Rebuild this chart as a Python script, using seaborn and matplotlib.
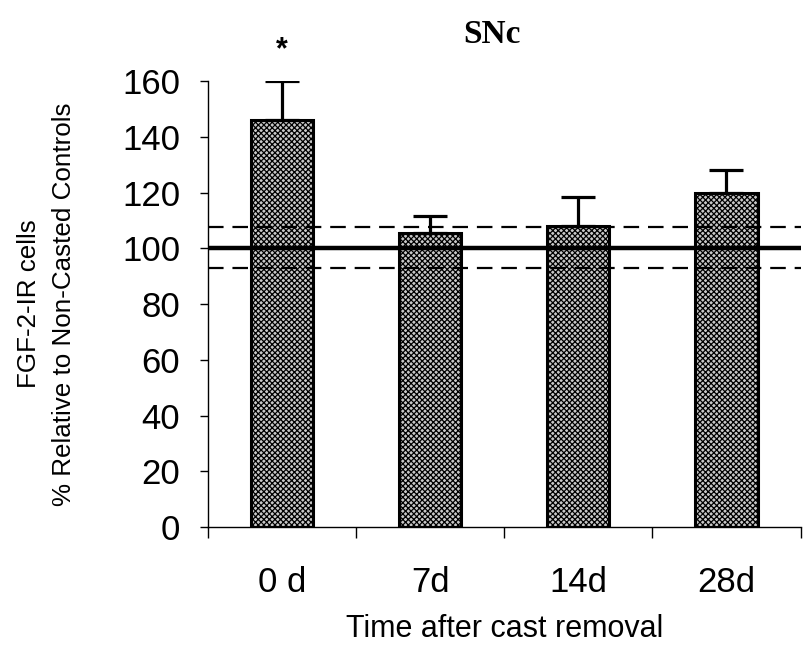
import matplotlib
matplotlib.use("Agg")
import matplotlib.pyplot as plt
import seaborn as sns
import pandas as pd
import numpy as np

# Data
categories = ["0 d", "7d", "14d", "28d"]
means = [146, 105.5, 108, 120]
sem_upper = [14, 6, 10.5, 8]
control_mean = 100
control_band = [93, 107.5]

df = pd.DataFrame({"time": categories, "pct": means})

sns.set_theme(style="ticks", rc={
    "text.color": "black", "axes.labelcolor": "black",
    "xtick.color": "black", "ytick.color": "black",
    "axes.edgecolor": "black",
})
plt.rcParams["font.family"] = ["Liberation Sans", "DejaVu Sans"]
plt.rcParams["hatch.linewidth"] = 0.9

fig = plt.figure(figsize=(8.04, 6.46), dpi=100)
ax = fig.add_axes([0.2587, 0.184, 0.737, 0.6906])

sns.barplot(data=df, x="time", y="pct", order=categories, color="#c8c8c8",
            width=0.42, errorbar=None, edgecolor="black", linewidth=2.2,
            saturation=1, ax=ax, zorder=2)
for p in ax.patches:
    p.set_hatch("xxxxxx")
    p.set_edgecolor("black")

x = np.arange(len(categories))
ax.errorbar(x, means, yerr=[np.zeros(len(means)), sem_upper], fmt="none",
            ecolor="black", elinewidth=2.3, capsize=12, capthick=2.3, zorder=3)

# control reference lines
ax.axhline(control_mean, color="black", lw=3.2, zorder=4)
for v in control_band:
    ax.axhline(v, color="black", lw=1.6, ls=(0, (7, 4)), zorder=4)

ax.text(0, 171, "*", ha="center", va="center", fontsize=22,
        fontweight="bold", clip_on=False)

ax.set_xlim(-0.5, 3.5)
ax.set_ylim(0, 160)
ax.set_yticks(np.arange(0, 161, 20))
ax.set_xticks(x)
ax.set_xticklabels(categories)
ax.set_xticks(np.arange(-0.5, 3.6, 1), minor=True)
ax.tick_params(axis="x", which="major", length=0, pad=28, labelsize=25)
ax.tick_params(axis="x", which="minor", length=8, width=1, direction="out")
ax.tick_params(axis="y", length=6, width=1, pad=14, labelsize=25)

for s in ["top", "right"]:
    ax.spines[s].set_visible(False)
ax.spines["left"].set_linewidth(1)
ax.spines["bottom"].set_linewidth(1)

ax.set_xlabel("Time after cast removal", fontsize=22, labelpad=11)
ax.set_ylabel("FGF-2-IR cells\n% Relative to Non-Casted Controls",
              fontsize=18.7, labelpad=33, linespacing=1.6)

fig.text(0.612, 0.946, "SNc", ha="center", va="center", fontsize=24,
         fontweight="bold", family=["Liberation Serif", "DejaVu Serif"])

fig.savefig("out.png", dpi=100)
